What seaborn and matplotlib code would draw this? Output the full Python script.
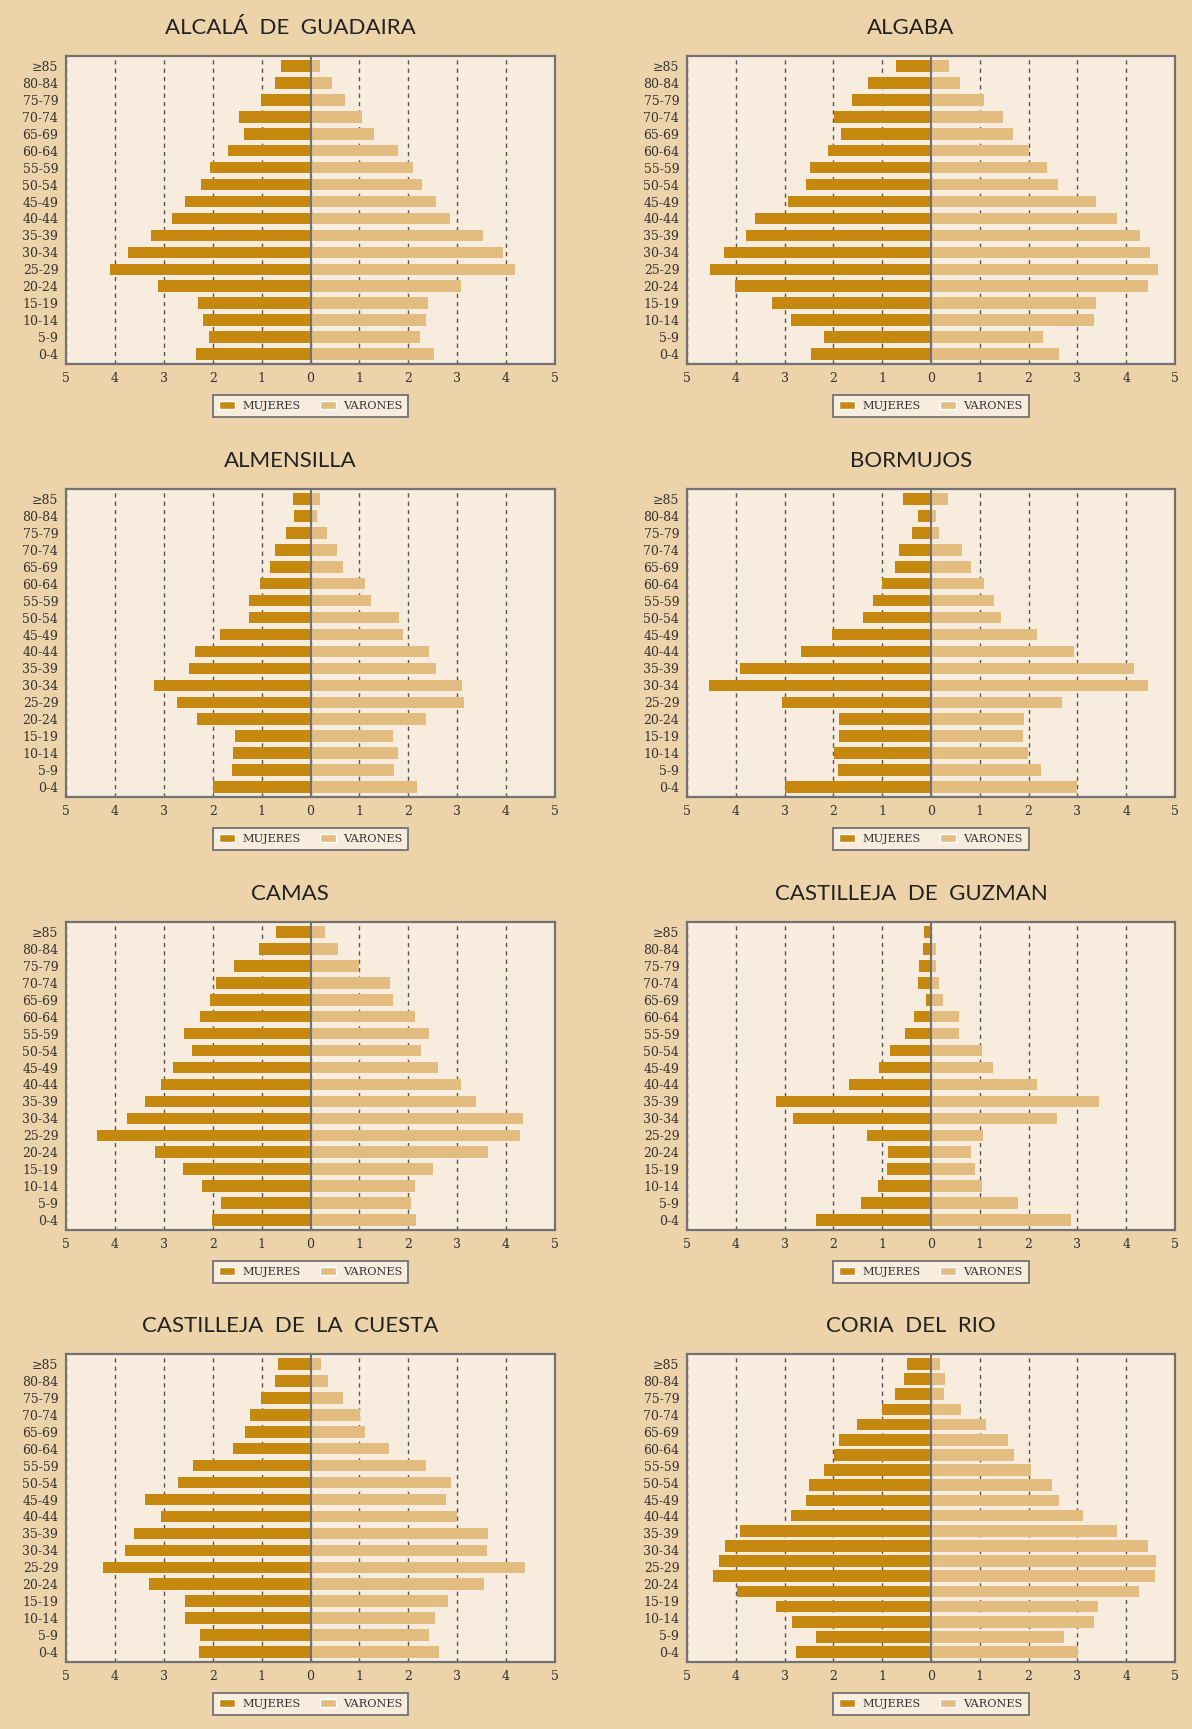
import numpy as np
import pandas as pd
import matplotlib.pyplot as plt
from matplotlib.patches import Patch
import seaborn as sns

# COLOURS
BG = '#EDD3AA'
PANEL = '#F8ECDE'
MUJ = '#C6880F'
VAR = '#E3BC7F'
EDGE = '#727272'
GRID = '#555555'
TEXT = '#333333'

sns.set_style('white')
plt.rcParams['font.family'] = ['DejaVu Serif']

# AGE GROUPS, TOP TO BOTTOM
AGES = ['≥85', '80-84', '75-79', '70-74', '65-69', '60-64', '55-59', '50-54', '45-49',
        '40-44', '35-39', '30-34', '25-29', '20-24', '15-19', '10-14', '5-9', '0-4']

# % OF POPULATION, SAME ORDER AS AGES
alcala_muj = [0.60, 0.72, 1.01, 1.46, 1.36, 1.69, 2.06, 2.24, 2.56, 2.84, 3.27, 3.73, 4.09, 3.11, 2.31, 2.19, 2.08, 2.35]
alcala_var = [0.20, 0.43, 0.71, 1.06, 1.29, 1.79, 2.09, 2.28, 2.56, 2.85, 3.53, 3.94, 4.19, 3.08, 2.40, 2.36, 2.24, 2.52]

algaba_muj = [0.72, 1.30, 1.61, 1.98, 1.84, 2.12, 2.47, 2.57, 2.94, 3.60, 3.79, 4.24, 4.53, 4.01, 3.25, 2.86, 2.19, 2.45]
algaba_var = [0.36, 0.59, 1.09, 1.47, 1.68, 2.01, 2.38, 2.61, 3.39, 3.81, 4.29, 4.49, 4.66, 4.44, 3.39, 3.34, 2.29, 2.62]

almensilla_muj = [0.36, 0.34, 0.50, 0.72, 0.83, 1.04, 1.26, 1.26, 1.86, 2.37, 2.49, 3.21, 2.74, 2.33, 1.55, 1.59, 1.61, 2.00]
almensilla_var = [0.20, 0.14, 0.34, 0.55, 0.67, 1.12, 1.23, 1.80, 1.89, 2.42, 2.56, 3.10, 3.14, 2.36, 1.68, 1.79, 1.70, 2.17]

bormujos_muj = [0.58, 0.27, 0.38, 0.66, 0.74, 1.01, 1.18, 1.39, 2.02, 2.66, 3.91, 4.55, 3.06, 1.89, 1.89, 1.98, 1.91, 2.99]
bormujos_var = [0.34, 0.10, 0.16, 0.63, 0.81, 1.09, 1.29, 1.44, 2.17, 2.94, 4.16, 4.44, 2.69, 1.91, 1.89, 1.99, 2.26, 2.99]

camas_muj = [0.71, 1.06, 1.56, 1.94, 2.06, 2.26, 2.59, 2.43, 2.82, 3.05, 3.38, 3.76, 4.36, 3.19, 2.61, 2.22, 1.84, 2.02]
camas_var = [0.29, 0.57, 1.00, 1.62, 1.68, 2.13, 2.42, 2.26, 2.61, 3.08, 3.39, 4.35, 4.29, 3.63, 2.50, 2.13, 2.05, 2.15]

guzman_muj = [0.15, 0.17, 0.25, 0.27, 0.11, 0.34, 0.54, 0.85, 1.06, 1.69, 3.17, 2.82, 1.32, 0.89, 0.91, 1.09, 1.44, 2.35]
guzman_var = [0.00, 0.10, 0.11, 0.16, 0.24, 0.57, 0.57, 1.04, 1.27, 2.17, 3.45, 2.59, 1.06, 0.81, 0.90, 1.04, 1.79, 2.87]

cuesta_muj = [0.66, 0.72, 1.01, 1.24, 1.34, 1.59, 2.41, 2.70, 3.38, 3.06, 3.60, 3.79, 4.24, 3.31, 2.57, 2.56, 2.26, 2.29]
cuesta_var = [0.22, 0.36, 0.67, 1.02, 1.12, 1.60, 2.36, 2.87, 2.77, 2.99, 3.63, 3.61, 4.39, 3.55, 2.81, 2.54, 2.42, 2.62]

# coria comes with 20 groups drawn over the same 18 labels
coria_muj = [0.50, 0.56, 0.74, 1.01, 1.51, 1.88, 1.98, 2.19, 2.51, 2.56, 2.86, 3.91, 4.22, 4.34, 4.46, 3.97, 3.17, 2.84, 2.35, 2.76]
coria_var = [0.18, 0.29, 0.26, 0.61, 1.12, 1.58, 1.70, 2.05, 2.48, 2.62, 3.12, 3.81, 4.44, 4.62, 4.60, 4.27, 3.43, 3.34, 2.73, 3.01]

MUNICIPIOS = [
    ('ALCALÁ  DE  GUADAIRA', alcala_muj, alcala_var),
    ('ALGABA', algaba_muj, algaba_var),
    ('ALMENSILLA', almensilla_muj, almensilla_var),
    ('BORMUJOS', bormujos_muj, bormujos_var),
    ('CAMAS', camas_muj, camas_var),
    ('CASTILLEJA  DE  GUZMAN', guzman_muj, guzman_var),
    ('CASTILLEJA  DE  LA  CUESTA', cuesta_muj, cuesta_var),
    ('CORIA  DEL  RIO', coria_muj, coria_var),
]

W, H = 1192, 1729
COL_X = [(66, 489), (687, 488)]
ROW_TOP = [56, 489, 922, 1354]
AX_H = 308
TITLE_X = [290, 911]


def draw_pyramid(fig, ax, title, muj, var, col, row):
    n = len(muj)
    top = len(AGES) - 1
    pos = np.linspace(top, 0, n)
    df = pd.DataFrame({
        'pos': np.concatenate([pos, pos]),
        'pct': np.concatenate([-np.array(muj), np.array(var)]),
        'sexo': ['MUJERES'] * n + ['VARONES'] * n,
    })
    # keep bar thickness constant whatever the number of groups
    width = 0.69 * (n - 1) / top
    sns.barplot(data=df, x='pct', y='pos', hue='sexo', orient='y', native_scale=True,
                dodge=False, palette={'MUJERES': MUJ, 'VARONES': VAR}, width=width,
                errorbar=None, legend=False, saturation=1, linewidth=0, ax=ax)

    ax.set_facecolor(PANEL)
    ax.set_xlim(-5, 5)
    ax.set_ylim(-0.58, top + 0.58)
    ax.set_xticks(range(-5, 6))
    ax.set_xticklabels([str(abs(v)) for v in range(-5, 6)])
    ax.set_yticks(range(len(AGES)))
    ax.set_yticklabels(AGES[::-1])
    ax.set_xlabel('')
    ax.set_ylabel('')
    ax.tick_params(length=0, labelsize=9, labelcolor=TEXT)
    ax.tick_params(axis='y', pad=5.5)
    ax.tick_params(axis='x', pad=6)

    ax.set_axisbelow(True)
    ax.xaxis.grid(True, linestyle=(0, (3, 3)), color=GRID, linewidth=1)
    ax.yaxis.grid(False)
    ax.axvline(0, color=EDGE, linewidth=1.5, zorder=3)
    for s in ax.spines.values():
        s.set_visible(True)
        s.set_color(EDGE)
        s.set_linewidth(1.6)

    handles = [Patch(facecolor=MUJ, label='MUJERES'), Patch(facecolor=VAR, label='VARONES')]
    leg = ax.legend(handles=handles, loc='upper center', bbox_to_anchor=(0.5, -0.102), ncol=2,
                    frameon=True, fancybox=False, edgecolor=EDGE, facecolor=PANEL, framealpha=1,
                    handlelength=1.4, handleheight=0.75, handletextpad=0.65, columnspacing=1.7,
                    borderpad=0.5, borderaxespad=0, prop={'family': 'DejaVu Serif', 'size': 8.2})
    leg.get_frame().set_linewidth(1.3)
    for t in leg.get_texts():
        t.set_color(TEXT)

    ty = ROW_TOP[row] - 28
    fig.text(TITLE_X[col] / W, 1 - ty / H, title, ha='center', va='center',
             fontsize=16, color='#222222', family=['Lato', 'DejaVu Sans'])


fig = plt.figure(figsize=(W / 100, H / 100), dpi=100, facecolor=BG)
for i, (title, muj, var) in enumerate(MUNICIPIOS):
    col, row = i % 2, i // 2
    x0, w = COL_X[col]
    y0 = ROW_TOP[row]
    ax = fig.add_axes([x0 / W, 1 - (y0 + AX_H) / H, w / W, AX_H / H])
    draw_pyramid(fig, ax, title, muj, var, col, row)

plt.savefig('out.png', dpi=100, facecolor=BG)
